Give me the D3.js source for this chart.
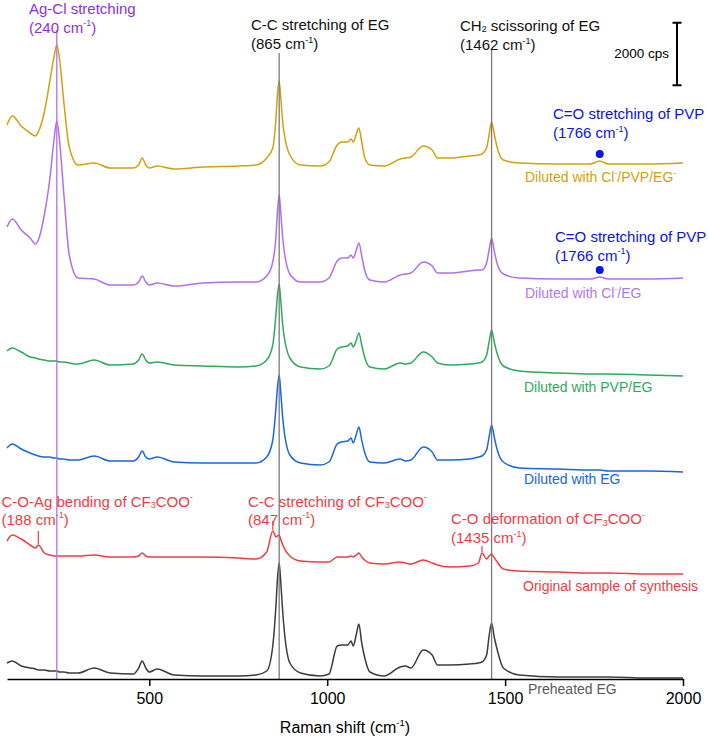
<!DOCTYPE html>
<html><head><meta charset="utf-8">
<script src="https://cdn.jsdelivr.net/npm/d3@7"></script>
<style>body{margin:0;background:#fff} svg{display:block;font-family:"Liberation Sans",Arial,sans-serif}</style>
</head><body><svg id="chart" width="709" height="740"></svg>
<script>
// Raman shift grid (cm-1)
const wavenumbers = [100,115,140,165,180,188,205,220,232,240, 248,260,275,300,345,390,455,470,480,490,
  500,522,570,650,750,800,830,847,856,860, 865,870,875,895,925,980,1005,1028,1040,1058,
  1067,1073,1082,1089,1097,1105,1120,1160,1205,1220, 1235,1270,1295,1310,1345,1400,1425,1435,1448,1455,
  1462,1470,1478,1495,1540,1650,1740,1766,1790,1900, 2000];

// intensities (cps) relative to each spectrum's own baseline
const dilutedClPVPEG = [1408,1696,1376,1152,1056,1184,1824,2784,3584,3968, 3488,2112,704,128,192,32,32,128,352,128,
  32,96,0,64,96,128,352,672,1632,2368, 2816,2208,1504,448,128,96,224,768,864,864,
  960,864,1120,1312,864,384,128,96,320,352, 384,736,608,352,352,416,448,480,672,1088,
  1504,1088,672,288,192,160,160,256,160,160, 192];
const dilutedClEG = [1888,2144,1792,1536,1344,1472,2272,3392,4672,5280, 4608,2912,992,256,224,32,32,128,320,128,
  32,96,0,96,128,128,320,768,1600,2368, 2912,2272,1536,384,128,128,256,800,896,896,
  992,896,1152,1376,960,512,192,128,352,384, 416,768,640,416,416,480,512,512,736,1152,
  1536,1088,704,384,256,224,224,288,224,224, 256];
const dilutedPVPEG = [800,896,768,608,576,544,512,480,480,480, 448,448,416,384,512,352,384,512,704,512,
  416,448,352,320,288,320,512,992,1984,2560, 2944,2336,1632,576,288,224,320,864,928,960,
  1056,928,1152,1376,992,608,288,224,416,384, 416,768,608,416,352,384,416,448,672,1088,
  1472,1056,704,320,160,96,64,64,64,32, 0];
const dilutedEG = [768,896,736,608,544,512,480,480,448,448, 416,416,384,384,512,352,352,480,672,480,
  416,480,320,288,288,288,480,1024,2080,2688, 3104,2464,1728,544,288,224,320,896,960,992,
  1088,928,1216,1440,1024,640,320,288,416,352, 384,800,640,384,384,416,480,512,704,1120,
  1504,1088,704,320,128,96,64,64,32,32, 0];
const originalSample = [1056,1248,1120,928,832,928,672,608,576,576, 576,576,576,576,608,544,544,576,672,576,
  544,544,544,544,512,480,704,1376,1184,1216, 1248,1088,928,576,416,384,384,544,544,544,
  576,544,608,672,544,448,352,320,384,352, 320,448,352,288,224,256,352,672,480,576,
  640,512,384,160,96,64,32,32,32,0, 0];
const preheatedEG = [480,544,384,320,288,256,256,224,224,224, 192,192,160,160,320,160,128,320,544,320,
  192,288,96,64,64,96,224,1024,2336,3136, 3680,2976,2112,480,160,64,128,1024,1056,1056,
  1184,1024,1408,1728,1120,672,192,64,352,384, 320,896,736,416,416,448,480,512,736,1344,
  1760,1280,896,320,96,32,32,32,32,0, 0];

// stacking offsets (cps)
const seriesOffsets = [16320, 12576, 9696, 6624, 3360, 32];
const seriesLabels = ["Diluted with Cl^{-}/PVP/EG^{-}", "Diluted with Cl^{-}/EG", "Diluted with PVP/EG",
  "Diluted with EG", "Original sample of synthesis", "Preheated EG"];
const xTickValues = [500, 1000, 1500, 2000];
const refLines = [240, 865, 1462];
const pvpPeak = 1766;
const cf3cooMarks = [188, 847, 1435];
const scaleBarCps = 2000;

const seriesValues = [dilutedClPVPEG, dilutedClEG, dilutedPVPEG, dilutedEG, originalSample, preheatedEG];
const seriesColors = ["#d4a00e", "#b06ff0", "#2eaa5c", "#1a66e0", "#f23c44", "#3c3c3c"];
const labelColors = ["#d4a00e", "#b07ae8", "#2eaa5c", "#1a66e0", "#f23c44", "#5a5a5a"];

const svg = d3.select("#chart");
const x = d3.scaleLinear().domain([100, 2000]).range([7, 683]);
const y = d3.scaleLinear().domain([0, 679 * 32]).range([679, 0]);

function rich(g, str, px, py, color, size, anchor) {
  const t = g.append("text").attr("x", px).attr("y", py).attr("fill", color)
    .attr("font-size", size).attr("text-anchor", anchor || "start");
  const parts = str.split(/(\^\{[^}]*\}|_\{[^}]*\})/);
  let shift = 0;
  parts.forEach(p => {
    if (!p) return;
    let txt = p, target = 0, small = false;
    if (p.startsWith("^{")) { txt = p.slice(2, -1); target = -0.42 * size; small = true; }
    else if (p.startsWith("_{")) { txt = p.slice(2, -1); target = 0.12 * size; small = true; }
    const ts = t.append("tspan").attr("dy", target - shift).text(txt);
    if (small) ts.attr("font-size", size * 0.6);
    shift = target;
  });
  return t;
}

// spectra
const line = d3.line().x((d, i) => x(wavenumbers[i])).curve(d3.curveMonotoneX);
seriesValues.forEach((vals, k) => {
  svg.append("path")
    .attr("d", line.y(d => y(d + seriesOffsets[k]))(vals))
    .attr("fill", "none").attr("stroke", seriesColors[k]).attr("stroke-width", 1.5)
    .attr("stroke-linejoin", "round");
});

// reference lines
const refTops = [30, 53, 50];
const refColors = ["#b06ff0", "#7a7a7a", "#7a7a7a"];
refLines.forEach((w, i) => {
  svg.append("line").attr("x1", x(w)).attr("x2", x(w)).attr("y1", refTops[i]).attr("y2", y(0))
    .attr("stroke", refColors[i]).attr("stroke-width", 1.3);
});

// axis
const axis = svg.append("g").attr("transform", `translate(0,${y(0)})`)
  .call(d3.axisBottom(x).tickValues(xTickValues).tickSize(7).tickSizeOuter(0).tickPadding(7).tickFormat(d3.format("d")));
axis.select(".domain").attr("stroke", "#000").attr("stroke-width", 1.5);
axis.selectAll(".tick line").attr("stroke", "#000").attr("stroke-width", 1.5);
axis.selectAll(".tick text").attr("font-size", 16).attr("font-family", "Liberation Sans, Arial, sans-serif").attr("fill", "#000");
rich(svg, "Raman shift (cm^{-1})", 345, 733, "#000", 16, "middle");

// scale bar
const sbX = 677, sbBottom = y(19000), sbTop = y(19000 + scaleBarCps);
svg.append("line").attr("x1", sbX).attr("x2", sbX).attr("y1", sbTop).attr("y2", sbBottom).attr("stroke", "#000").attr("stroke-width", 2);
[sbTop, sbBottom].forEach(v => svg.append("line").attr("x1", sbX - 4.5).attr("x2", sbX + 4.5).attr("y1", v).attr("y2", v).attr("stroke", "#000").attr("stroke-width", 2));
rich(svg, "2000 cps", 669, 58, "#000", 13.5, "end");

// series labels
const labelPos = [[525, 182], [525, 298], [524, 392], [524, 484], [523, 591], [528, 694]];
seriesLabels.forEach((s, k) => rich(svg, s, labelPos[k][0], labelPos[k][1], labelColors[k], 14));

// PVP dots
const iPvp = wavenumbers.indexOf(pvpPeak);
[0, 1].forEach(k => {
  svg.append("circle").attr("cx", x(pvpPeak)).attr("cy", y(seriesValues[k][iPvp] + seriesOffsets[k]) - 7)
    .attr("r", 4).attr("fill", "#0a14e6");
});

// CF3COO- marks on original sample
const markLen = [13, 9, 6];
cf3cooMarks.forEach((w, i) => {
  const j = wavenumbers.indexOf(w);
  const yy = y(originalSample[j] + seriesOffsets[4]) - 1;
  svg.append("line").attr("x1", x(w)).attr("x2", x(w)).attr("y1", yy).attr("y2", yy - markLen[i])
    .attr("stroke", "#f23c44").attr("stroke-width", 1.2);
});

// annotations
const purple = "#8f2ee6", black = "#111", blue = "#0a14e6", red = "#f23c44";
rich(svg, "Ag-Cl stretching", 29, 13.5, purple, 15);
rich(svg, "(240 cm^{-1})", 29, 32.5, purple, 15);
rich(svg, "C-C stretching of EG", 251, 29.5, black, 15);
rich(svg, "(865 cm^{-1})", 251, 49, black, 15);
rich(svg, "CH_{2} scissoring of EG", 460, 30.5, black, 15);
rich(svg, "(1462 cm^{-1})", 460, 50, black, 15);
rich(svg, "C=O stretching of PVP", 553, 119, blue, 15);
rich(svg, "(1766 cm^{-1})", 553, 138, blue, 15);
rich(svg, "C=O stretching of PVP", 555, 241.5, blue, 15);
rich(svg, "(1766 cm^{-1})", 555, 260.5, blue, 15);
rich(svg, "C-O-Ag bending of CF_{3}COO^{-}", 1.5, 506.5, red, 15);
rich(svg, "(188 cm^{-1})", 1.5, 524.5, red, 15);
rich(svg, "C-C stretching of CF_{3}COO^{-}", 248, 506.5, red, 15);
rich(svg, "(847 cm^{-1})", 248, 524.5, red, 15);
rich(svg, "C-O deformation of CF_{3}COO^{-}", 451, 524, red, 15);
rich(svg, "(1435 cm^{-1})", 451, 543, red, 15);
</script>
</body></html>
